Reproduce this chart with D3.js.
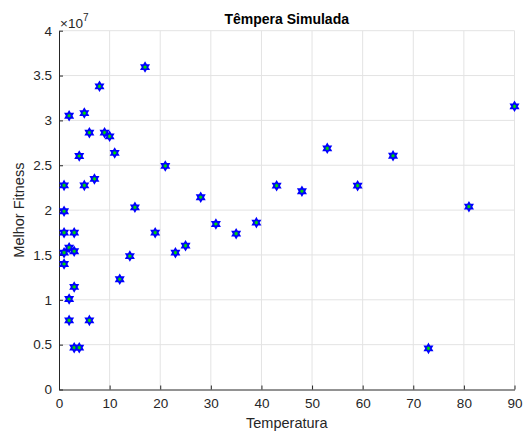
<!DOCTYPE html>
<html>
<head>
<meta charset="utf-8">
<script src="https://cdn.jsdelivr.net/npm/d3@7"></script>
<style>
  body { margin: 0; background: #fff; }
  svg { display: block; font-family: "Liberation Sans", Arial, sans-serif; }
</style>
</head>
<body>
<svg id="chart"></svg>
<script>
const width = 527;
const height = 433;

// temperatura / melhor fitness
const temperatura = [1, 1, 1, 1, 1, 2, 2, 2, 2, 3, 3, 3, 3, 4, 4, 5, 5, 6, 6, 7, 8, 9, 10, 11, 12, 14, 15, 17, 19, 21, 23, 25, 28, 31, 35, 39, 43, 48, 53, 59, 66, 73, 81, 90];
const fitness = [2.276, 1.987, 1.748, 1.525, 1.399, 3.052, 1.581, 1.009, 0.771, 1.748, 1.541, 1.143, 0.466, 2.603, 0.466, 3.082, 2.276, 2.863, 0.771, 2.347, 3.380, 2.863, 2.823, 2.637, 1.229, 1.488, 2.031, 3.595, 1.748, 2.492, 1.525, 1.603, 2.143, 1.845, 1.737, 1.860, 2.272, 2.210, 2.689, 2.272, 2.606, 0.459, 2.038, 3.157];
const xTicks = [0, 10, 20, 30, 40, 50, 60, 70, 80, 90];
const yTicks = [0, 0.5, 1, 1.5, 2, 2.5, 3, 3.5, 4];

const margin = { left: 59, right: 12.5, top: 30.7, bottom: 43.5 };

const svg = d3.select("#chart").attr("width", width).attr("height", height);

const x = d3.scaleLinear().domain([0, 90]).range([margin.left, width - margin.right]);
const y = d3.scaleLinear().domain([0, 4]).range([height - margin.bottom, margin.top]);

const textColor = "#262626";
const gridColor = "#e3e3e3";

// grille
svg.append("g").selectAll("line")
    .data(xTicks.slice(1))
    .enter().append("line")
    .attr("x1", d => x(d)).attr("x2", d => x(d))
    .attr("y1", y(0)).attr("y2", y(4))
    .attr("stroke", gridColor).attr("stroke-width", 1);

svg.append("g").selectAll("line")
    .data(yTicks.slice(1))
    .enter().append("line")
    .attr("x1", x(0)).attr("x2", x(90))
    .attr("y1", d => y(d)).attr("y2", d => y(d))
    .attr("stroke", gridColor).attr("stroke-width", 1);

// axes
const xAxis = d3.axisBottom(x).tickValues(xTicks).tickSizeInner(-4).tickSizeOuter(0).tickPadding(9);
const yAxis = d3.axisLeft(y).tickValues(yTicks).tickFormat(d3.format("")).tickSizeInner(-4).tickSizeOuter(0).tickPadding(7);

const gx = svg.append("g").attr("transform", `translate(0,${y(0)})`).call(xAxis);
const gy = svg.append("g").attr("transform", `translate(${x(0)},0)`).call(yAxis);

[gx, gy].forEach(g => {
    g.select(".domain").attr("stroke", textColor).attr("stroke-width", 1);
    g.selectAll(".tick line").attr("stroke", textColor);
    g.selectAll(".tick text").attr("fill", textColor).style("font-size", "13.5px");
});

// ×10^7
const expo = svg.append("text")
    .attr("x", x(0) + 1)
    .attr("y", y(4) - 3)
    .attr("fill", textColor)
    .style("font-size", "13.5px");
expo.append("tspan").text("×10");
expo.append("tspan").attr("dy", -7).style("font-size", "10px").text("7");

// titres
svg.append("text")
    .attr("x", (x(0) + x(90)) / 2)
    .attr("y", 24)
    .attr("text-anchor", "middle")
    .attr("fill", "#000")
    .style("font-size", "14px")
    .style("font-weight", "bold")
    .text("Têmpera Simulada");

svg.append("text")
    .attr("x", (x(0) + x(90)) / 2)
    .attr("y", 428)
    .attr("text-anchor", "middle")
    .attr("fill", textColor)
    .style("font-size", "14.5px")
    .text("Temperatura");

svg.append("text")
    .attr("transform", `translate(24,${(y(0) + y(4)) / 2}) rotate(-90)`)
    .attr("text-anchor", "middle")
    .attr("fill", textColor)
    .style("font-size", "14.5px")
    .text("Melhor Fitness");

// hexagrammes
const hexagram = {
    draw(context, size) {
        const r = Math.sqrt(size) / 2;
        const ri = r / Math.sqrt(3);
        for (let i = 0; i < 12; i++) {
            const a = -Math.PI / 2 + i * Math.PI / 6;
            const rr = i % 2 === 0 ? r : ri;
            const px = rr * Math.cos(a), py = rr * Math.sin(a);
            if (i === 0) context.moveTo(px, py); else context.lineTo(px, py);
        }
        context.closePath();
    }
};

const points = temperatura.map((t, i) => ({ t, f: fitness[i] }));

svg.append("g").selectAll("path")
    .data(points)
    .enter().append("path")
    .attr("transform", d => `translate(${x(d.t)},${y(d.f)})`)
    .attr("d", d3.symbol().type(hexagram).size(64))
    .attr("fill", "#00dd00")
    .attr("stroke", "#0000ff")
    .attr("stroke-width", 1.8)
    .attr("stroke-linejoin", "miter");
</script>
</body>
</html>
